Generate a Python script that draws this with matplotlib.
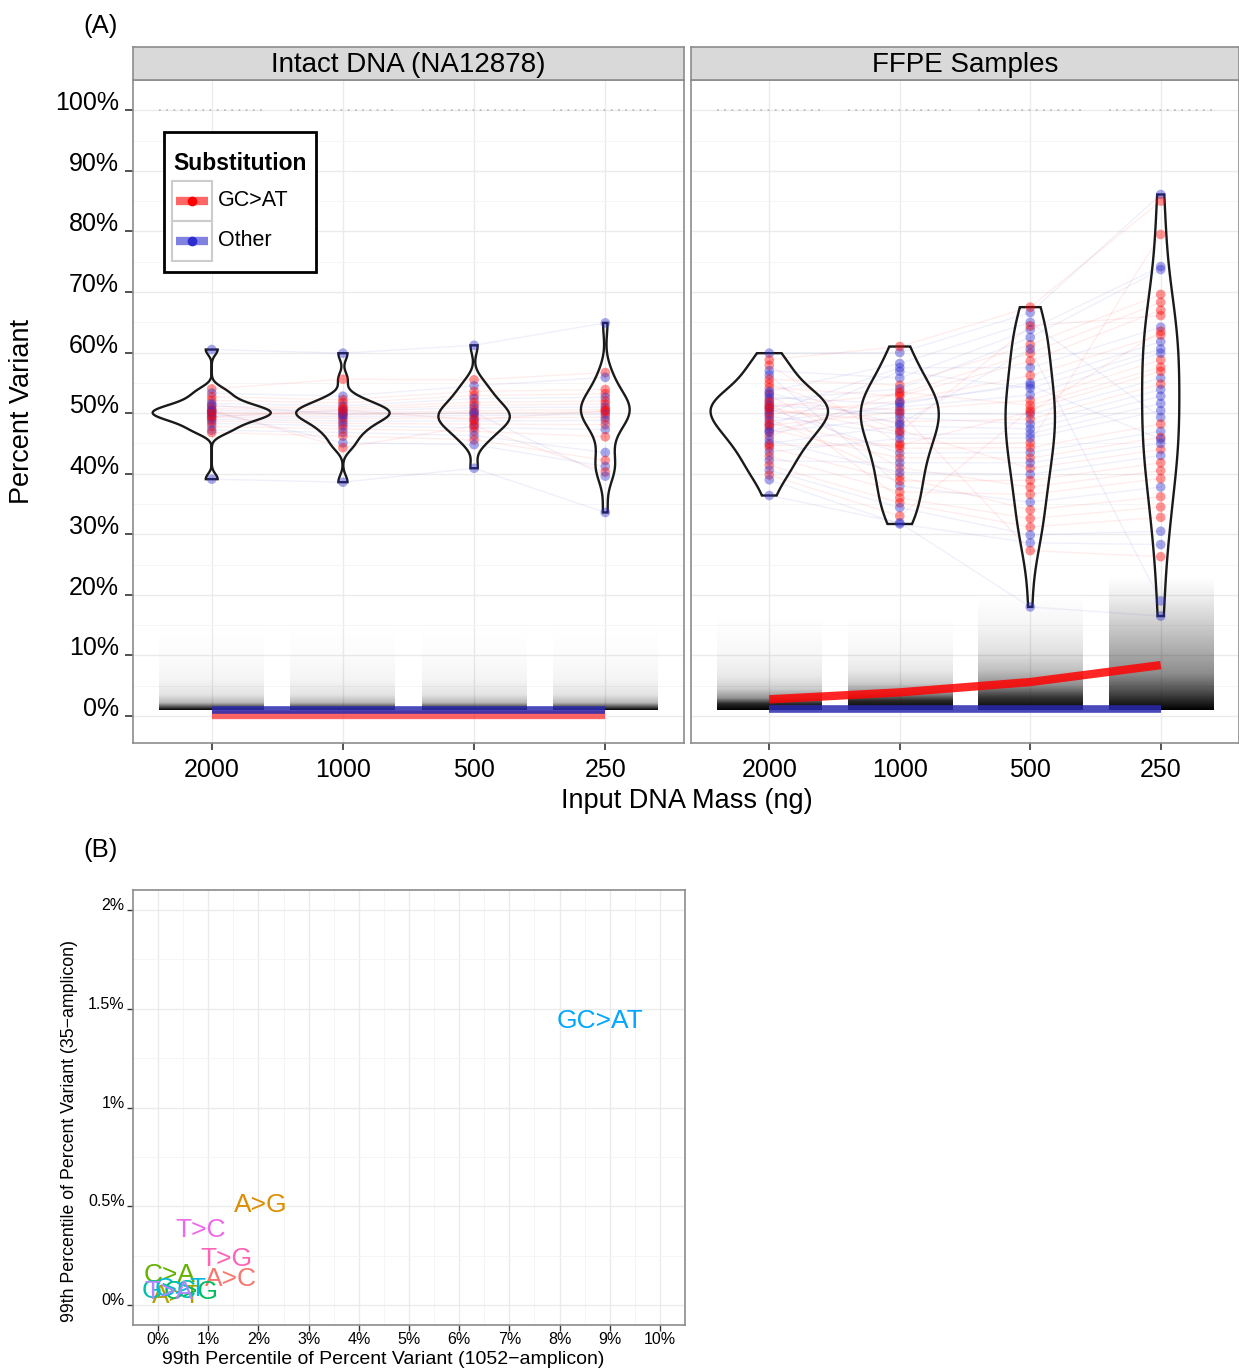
import numpy as np
import matplotlib
matplotlib.use("Agg")
import matplotlib.pyplot as plt
from matplotlib.patches import Rectangle
from matplotlib.lines import Line2D

plt.rcParams['font.family'] = ['Liberation Sans', 'DejaVu Sans']

# ---------------- data ----------------
masses = ['2000', '1000', '500', '250']
panels = ['Intact DNA (NA12878)', 'FFPE Samples']

# Intact DNA heterozygous variants: percent variant at each mass
intact_2000 = [60.5, 54.0, 53.3, 52.7, 52.1, 51.6, 51.1, 50.7, 50.4, 50.1, 49.9, 49.6,
               49.3, 49.0, 48.7, 48.3, 47.8, 47.2, 46.8, 50.2, 50.5, 51.3, 49.4, 39.1]
intact_1000 = [59.9, 55.6, 52.8, 52.2, 51.7, 51.2, 50.9, 50.6, 50.3, 50.0, 49.7, 49.4,
               49.1, 48.7, 48.3, 47.9, 47.4, 46.8, 46.2, 45.1, 44.3, 49.8, 50.5, 38.6]
intact_500 = [61.2, 55.5, 54.5, 53.6, 52.9, 52.4, 51.8, 51.3, 50.9, 50.4, 50.0, 49.6,
              49.2, 48.7, 48.2, 47.6, 47.0, 46.3, 45.6, 44.8, 47.9, 50.1, 48.9, 40.9]
intact_250 = [64.9, 56.7, 55.9, 53.9, 53.2, 52.6, 52.0, 51.5, 51.0, 50.6, 50.2, 49.8,
              49.3, 48.8, 48.1, 47.3, 46.1, 43.5, 42.2, 41.2, 40.3, 39.6, 50.4, 33.6]
intact_type = ['Other', 'GC>AT', 'Other', 'GC>AT', 'GC>AT', 'Other', 'GC>AT', 'GC>AT',
               'Other', 'GC>AT', 'GC>AT', 'Other', 'GC>AT', 'Other', 'GC>AT', 'Other',
               'GC>AT', 'Other', 'GC>AT', 'Other', 'GC>AT', 'Other', 'GC>AT', 'Other']

# FFPE variants
ffpe_2000 = [59.9, 58.8, 57.9, 57.0, 56.3, 55.6, 54.9, 54.2, 53.6, 53.0, 52.6, 52.2,
             51.9, 51.6, 51.3, 51.0, 50.7, 50.4, 50.1, 49.8, 49.5, 49.1, 48.7, 48.3,
             47.8, 47.3, 46.8, 46.2, 45.6, 45.0, 44.3, 43.6, 42.9, 42.2, 41.4, 40.6,
             39.8, 39.0, 36.4, 48.0, 53.3, 50.9, 47.0, 44.7]
ffpe_1000 = [60.0, 61.0, 45.0, 55.8, 38.0, 54.6, 47.2, 52.8, 58.2, 41.0, 51.5, 54.0,
             36.0, 50.5, 49.9, 53.2, 43.4, 48.6, 57.5, 52.0, 46.5, 39.5, 51.0, 44.2,
             56.9, 42.6, 49.3, 53.5, 40.2, 47.9, 38.8, 45.8, 37.0, 41.8, 35.2, 34.4,
             33.0, 31.7, 31.9, 50.2, 48.2, 46.9, 51.8, 44.7]
ffpe_500 = [66.6, 67.5, 45.1, 63.8, 35.3, 61.3, 40.9, 58.6, 65.0, 37.8, 55.0, 62.5,
            32.6, 52.1, 49.8, 59.9, 43.5, 49.0, 57.5, 56.2, 46.6, 34.0, 53.0, 44.3,
            54.1, 42.6, 48.2, 51.3, 39.9, 47.4, 38.9, 45.9, 36.6, 41.8, 31.2, 29.9,
            50.6, 28.6, 18.0, 27.3, 60.6, 64.4, 54.6, 50.2]
ffpe_250 = [86.1, 85.0, 79.5, 74.2, 37.8, 69.6, 44.0, 67.0, 49.3, 40.5, 61.8, 73.7,
            34.5, 58.8, 55.8, 68.3, 47.0, 54.8, 64.2, 62.9, 51.6, 36.2, 59.9, 48.2,
            60.6, 46.0, 53.9, 57.6, 43.0, 52.8, 41.8, 50.4, 39.2, 45.0, 32.8, 30.5,
            56.9, 28.3, 16.5, 26.3, 19.0, 66.1, 45.7, 63.5]
ffpe_type = ['Other', 'GC>AT', 'GC>AT', 'Other', 'Other', 'GC>AT', 'GC>AT', 'GC>AT',
             'Other', 'GC>AT', 'Other', 'Other', 'GC>AT', 'GC>AT', 'Other', 'GC>AT',
             'Other', 'GC>AT', 'Other', 'GC>AT', 'Other', 'GC>AT', 'Other', 'GC>AT',
             'Other', 'GC>AT', 'Other', 'GC>AT', 'Other', 'Other', 'GC>AT', 'Other',
             'GC>AT', 'Other', 'GC>AT', 'Other', 'GC>AT', 'Other', 'Other', 'GC>AT',
             'Other', 'GC>AT', 'Other', 'GC>AT']

# background (non-germline) calls: density profile of the dense cloud near 0-20%
intact_cloud_levels = [[1.0, 1.4, 2.2, 3.5, 6.0, 10.0, 16.0]] * 4
intact_cloud_density = [[1.0, 0.75, 0.28, 0.11, 0.045, 0.015, 0.0]] * 4
ffpe_cloud_levels = [[1.0, 2.0, 3.0, 4.5, 6.5, 10.5, 17.0],
                     [1.0, 2.5, 3.8, 5.5, 7.5, 11.0, 17.0],
                     [1.0, 3.0, 5.0, 7.5, 10.5, 15.0, 20.0],
                     [1.0, 4.0, 7.0, 11.0, 15.0, 19.5, 23.0]]
ffpe_cloud_density = [[1.0, 0.85, 0.42, 0.2, 0.09, 0.03, 0.0],
                      [1.0, 0.85, 0.42, 0.2, 0.09, 0.03, 0.0],
                      [1.0, 0.8, 0.45, 0.25, 0.12, 0.04, 0.0],
                      [1.0, 0.7, 0.45, 0.32, 0.2, 0.07, 0.0]]

# fitted background trend per substitution class
intact_trend_gcat = [0.2, 0.2, 0.2, 0.2]
intact_trend_other = [1.05, 1.05, 1.05, 1.05]
ffpe_trend_gcat = [2.75, 3.9, 5.6, 8.4]
ffpe_trend_other = [1.15, 1.15, 1.15, 1.15]

# Panel B
sub_labels = ['A>C', 'A>G', 'A>T', 'C>A', 'C>G', 'G>C', 'G>T', 'GC>AT', 'T>A', 'T>C', 'T>G']
p99_1052 = [1.45, 2.05, 0.36, 0.22, 0.66, 0.22, 0.46, 8.81, 0.22, 0.84, 1.37]
p99_35 = [0.135, 0.508, 0.045, 0.155, 0.065, 0.07, 0.08, 1.436, 0.068, 0.382, 0.236]
sub_colors = ['#F8766D', '#DB8E00', '#AEA200', '#64B200', '#00BD5C', '#00C1A7',
              '#00BADE', '#00A6FF', '#B385FF', '#EF67EB', '#FF63B6']

# ---------------- figure ----------------
W, H = 1239, 1371
fig = plt.figure(figsize=(W / 100, H / 100), dpi=100)


def axpx(x0, y0, x1, y1):
    return fig.add_axes([x0 / W, 1 - y1 / H, (x1 - x0) / W, (y1 - y0) / H])


axL = axpx(133, 80, 684, 743)
axR = axpx(691, 80, 1239, 743)
stripL = axpx(133, 47, 684, 80)
stripR = axpx(691, 47, 1239, 80)
axB = axpx(133, 890, 685, 1325)

RED = '#FF0000'
BLUE = '#2E2ED0'
type_color = {'GC>AT': RED, 'Other': BLUE}
pos = np.arange(1, 5)


def kde(vals, grid):
    v = np.asarray(vals, float)
    n = len(v)
    sd = v.std(ddof=1)
    q75, q25 = np.percentile(v, [75, 25])
    bw = 0.9 * min(sd, (q75 - q25) / 1.34) * n ** -0.2
    d = np.exp(-0.5 * ((grid[:, None] - v[None, :]) / bw) ** 2).sum(1)
    return d / (n * bw * np.sqrt(2 * np.pi))


def style_A(ax, show_y):
    ax.set_xlim(0.4, 4.6)
    ax.set_ylim(-4.46, 105.0)
    ax.set_yticks(np.arange(0, 101, 10))
    ax.set_yticks(np.arange(5, 100, 10), minor=True)
    ax.set_xticks(pos)
    ax.set_xticklabels(masses, fontsize=18)
    ax.grid(which='major', color='#EBEBEB', lw=1.0)
    ax.grid(which='minor', axis='y', color='#F5F5F5', lw=0.7)
    ax.set_axisbelow(True)
    ax.tick_params(which='minor', length=0)
    ax.tick_params(axis='x', length=5, width=1.2, color='#333333', pad=6)
    if show_y:
        ax.set_yticklabels([f'{v}%' for v in range(0, 101, 10)], fontsize=18)
        ax.tick_params(axis='y', length=6, width=1.2, color='#333333', pad=4)
        for lab in ax.get_yticklabels():
            lab.set_verticalalignment('baseline')
    else:
        ax.tick_params(axis='y', left=False, labelleft=False)
    for s in ax.spines.values():
        s.set_color('#8C8C8C')
        s.set_linewidth(1.2)


def draw_panel(ax, cols, types, cloud_lv, cloud_dn, trend_g, trend_o, trend_alpha):
    # background cloud, rendered as a vertical density gradient
    for i in range(4):
        lv = np.asarray(cloud_lv[i], float)
        dn = np.asarray(cloud_dn[i], float)
        yy = np.linspace(lv[0], lv[-1], 400)
        img = np.zeros((400, 1, 4))
        img[:, 0, 3] = np.interp(yy, lv, dn)
        ax.imshow(img, extent=[pos[i] - 0.4, pos[i] + 0.4, lv[0], lv[-1]], origin='lower',
                  aspect='auto', interpolation='bilinear', zorder=1.5)
        ax.hlines(100, pos[i] - 0.4, pos[i] + 0.4, colors='#8A8A8A', lw=1.3,
                  linestyles=(0, (1, 3)), alpha=0.5, zorder=1.6)
    # connecting lines
    arr = np.array(cols).T
    for row, t in zip(arr, types):
        ax.plot(pos, row, color=type_color[t], alpha=0.07, lw=1.0, zorder=2)
    # violins (area-scaled within panel)
    grids, dens = [], []
    for c in cols:
        g = np.linspace(min(c), max(c), 512)
        grids.append(g)
        dens.append(kde(c, g))
    dmax = max(d.max() for d in dens)
    for i, (g, d) in enumerate(zip(grids, dens)):
        hw = 0.45 * d / dmax
        xs = np.concatenate([pos[i] + hw, (pos[i] - hw)[::-1]])
        ys = np.concatenate([g, g[::-1]])
        ax.fill(xs, ys, facecolor='none', edgecolor='#1A1A1A', lw=1.7, zorder=3)
    # points
    for i, c in enumerate(cols):
        ax.scatter(np.full(len(c), pos[i]), c, s=48, c=[type_color[t] for t in types],
                   alpha=0.42, edgecolors='none', zorder=4)
    # trend lines
    ax.plot(pos, trend_g, color=RED, lw=6, alpha=trend_alpha, solid_capstyle='butt', zorder=5)
    ax.plot(pos, trend_o, color='#2A2AAE', lw=5.5, alpha=0.85, solid_capstyle='butt', zorder=6)


draw_panel(axL, [intact_2000, intact_1000, intact_500, intact_250], intact_type,
           intact_cloud_levels, intact_cloud_density, intact_trend_gcat, intact_trend_other, 0.6)
draw_panel(axR, [ffpe_2000, ffpe_1000, ffpe_500, ffpe_250], ffpe_type,
           ffpe_cloud_levels, ffpe_cloud_density, ffpe_trend_gcat, ffpe_trend_other, 0.85)
style_A(axL, True)
style_A(axR, False)

for st, title in zip([stripL, stripR], panels):
    st.set_facecolor('#D9D9D9')
    st.set_xticks([])
    st.set_yticks([])
    for s in st.spines.values():
        s.set_color('#8C8C8C')
        s.set_linewidth(1.2)
    st.text(0.5, 0.45, title, ha='center', va='center', fontsize=20, transform=st.transAxes)


# legend drawn in left panel (pixel-based placement)
def fx(px):
    return (px - 133) / 551


def fy(py):
    return (743 - py) / 663


T = axL.transAxes
axL.add_patch(Rectangle((fx(164), fy(272)), fx(316) - fx(164), fy(132) - fy(272),
                        transform=T, facecolor='white', edgecolor='black', lw=2, zorder=10))
axL.text(fx(173), fy(164), 'Substitution', transform=T, fontsize=16.5, fontweight='bold',
         ha='left', va='center', zorder=11)
for lab, col, yc in [('GC>AT', RED, 201), ('Other', BLUE, 241)]:
    axL.add_patch(Rectangle((fx(172), fy(yc + 20)), fx(212) - fx(172), fy(yc - 20) - fy(yc + 20),
                            transform=T, facecolor='white', edgecolor='#CCCCCC', lw=1.5, zorder=11))
    axL.add_line(Line2D([fx(176), fx(208)], [fy(yc), fy(yc)], transform=T, color=col,
                        alpha=0.6, lw=6, solid_capstyle='butt', zorder=12))
    axL.add_line(Line2D([fx(192)], [fy(yc)], transform=T, marker='o', ms=7, color=col,
                        mec='none', zorder=13))
    axL.text(fx(218), fy(yc), lab, transform=T, fontsize=15.5, ha='left', va='center', zorder=12)

fig.text(22 / W, 1 - 411 / H, 'Percent Variant', rotation=90, ha='center', va='center', fontsize=19.5)
fig.text(687 / W, 1 - 801 / H, 'Input DNA Mass (ng)', ha='center', va='center', fontsize=19.5)
fig.text(101 / W, 1 - 26 / H, '(A)', ha='center', va='center', fontsize=18.5)
fig.text(101 / W, 1 - 850 / H, '(B)', ha='center', va='center', fontsize=18.5)

# ---------------- panel B ----------------
axB.set_xlim(-0.5, 10.5)
axB.set_ylim(-0.1, 2.1)
axB.set_xticks(np.arange(0, 11, 1))
axB.set_xticklabels([f'{v}%' for v in range(0, 11)], fontsize=11.5)
axB.set_xticks(np.arange(0.5, 10.5, 1), minor=True)
axB.set_yticks([0, 0.5, 1, 1.5, 2])
axB.set_yticklabels(['0%', '0.5%', '1%', '1.5%', '2%'], fontsize=11.5)
axB.set_yticks([0.25, 0.75, 1.25, 1.75], minor=True)
axB.grid(which='major', color='#EBEBEB', lw=1.0)
axB.grid(which='minor', color='#F5F5F5', lw=0.7)
axB.set_axisbelow(True)
axB.tick_params(which='minor', length=0)
axB.tick_params(which='major', length=4, width=1.0, color='#333333', pad=2)
axB.tick_params(axis='x', pad=1)
for lab in axB.get_yticklabels():
    lab.set_verticalalignment('baseline')
for s in axB.spines.values():
    s.set_color('#8C8C8C')
    s.set_linewidth(1.2)
for lab, x, y, c in zip(sub_labels, p99_1052, p99_35, sub_colors):
    axB.text(x, y, lab, color=c, fontsize=19, ha='center', va='center')

fig.text(383 / W, 1 - 1359 / H, '99th Percentile of Percent Variant (1052\u2212amplicon)',
         ha='center', va='center', fontsize=14)
fig.text(70 / W, 1 - 1131 / H, '99th Percentile of Percent Variant (35\u2212amplicon)',
         rotation=90, ha='center', va='center', fontsize=12.8)

fig.savefig('out.png', dpi=100)
